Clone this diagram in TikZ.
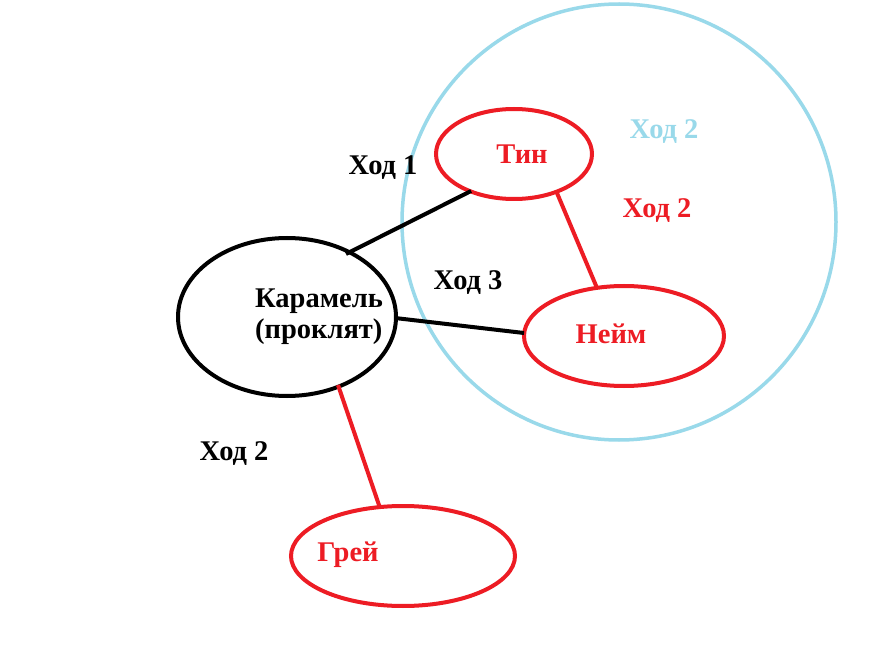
\documentclass[tikz,border=0pt]{standalone}
\usepackage{fontspec}
\setmainfont{Liberation Serif}
\definecolor{pred}{RGB}{237,28,36}
\definecolor{pblue}{RGB}{153,217,234}
\begin{document}
\begin{tikzpicture}[x=1pt,y=-1pt,
  lbl/.style={font=\fontsize{28.5}{31}\selectfont\bfseries,inner sep=0pt},
  con/.style={line width=4pt}]
\useasboundingbox[fill=white] (0,0) rectangle (879,663);
\draw[pblue,line width=3.5pt] (619,222) ellipse [x radius=217,y radius=218];
\node[pblue,lbl] (h2b) at (664,132) {Ход 2};
\node[pred,lbl] (h2r) at (657,211) {Ход 2};
\node[lbl] (h1) at (383,168) {Ход 1};
\node[lbl] (h3) at (468,283) {Ход 3};
\node[lbl] (h2k) at (234,454) {Ход 2};
\draw[line width=4pt] (287,317) ellipse [x radius=109,y radius=79];
\draw[pred,line width=4pt] (514,154) ellipse [x radius=78,y radius=45];
\draw[pred,line width=4pt] (624,336) ellipse [x radius=100,y radius=50];
\draw[pred,line width=4pt] (403,556) ellipse [x radius=112,y radius=50];
\node[lbl,align=left] (kar) at (319,317) {Карамель\\(проклят)};
\node[lbl,pred] (tin) at (522,154) {Тин};
\node[lbl,pred] (neim) at (611,334) {Нейм};
\node[lbl,pred] (grei) at (348,555) {Грей};
\coordinate (a1) at (346,254); \coordinate (b1) at (471,191);
\coordinate (a2) at (395,318); \coordinate (b2) at (524,333);
\coordinate (a3) at (557,193); \coordinate (b3) at (597,288);
\coordinate (a4) at (338,385); \coordinate (b4) at (380,508);
\draw[con] (a1) -- (b1);
\draw[con] (a2) -- (b2);
\draw[con,pred] (a3) -- (b3);
\draw[con,pred] (a4) -- (b4);
\end{tikzpicture}
\end{document}
